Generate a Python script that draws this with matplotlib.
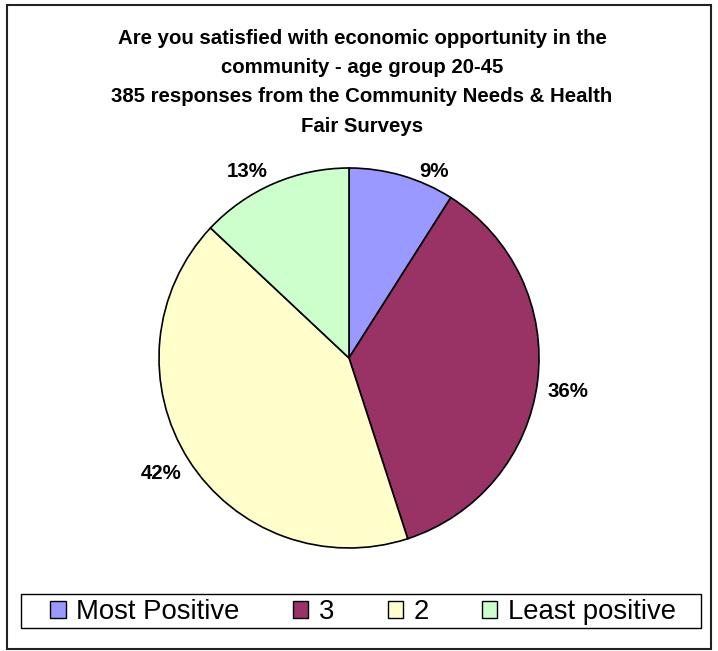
import numpy as np
import matplotlib.pyplot as plt
from matplotlib.patches import Rectangle

plt.rcParams['font.family'] = ['Liberation Sans', 'DejaVu Sans']

# survey answers, most positive first (clockwise from 12 o'clock)
categories = ['Most Positive', '3', '2', 'Least positive']
shares = [9, 36, 42, 13]
colors = ['#9999FF', '#993366', '#FFFFCC', '#CCFFCC']
# label nudges in points, away from the rim
label_offsets = [(23, 3), (22, -7), (-20, -10), (-19, 9)]

title = ("Are you satisfied with economic opportunity in the\n"
         "community - age group 20-45\n"
         "385 responses from the Community Needs & Health\n"
         "Fair Surveys")

W, H = 718, 651
fig = plt.figure(figsize=(W / 100, H / 100), dpi=100)

# pie axes: centre (349, 358) px, radius 190 px
cx, cy, r = 349, 358, 190
ax = fig.add_axes([(cx - r) / W, (H - cy - r) / H, 2 * r / W, 2 * r / H])
wedges, _ = ax.pie(shares, colors=colors, startangle=90, counterclock=False,
                   radius=1, wedgeprops=dict(edgecolor='black', linewidth=1.2))
ax.set_xlim(-1, 1)
ax.set_ylim(-1, 1)
ax.set_aspect('equal')
ax.axis('off')

for w, val, off in zip(wedges, shares, label_offsets):
    mid = np.deg2rad((w.theta1 + w.theta2) / 2)
    ax.annotate(f'{val}%', xy=(np.cos(mid), np.sin(mid)), xytext=off,
                textcoords='offset points', ha='center', va='center',
                fontsize=14.7, fontweight='bold', annotation_clip=False)

fig.text(362 / W, 1 - 29 / H, title, ha='center', va='top', fontsize=14.7,
         fontweight='bold', linespacing=1.68)

# chart border and legend box
fig.patches.append(Rectangle((7 / W, 1 - 649 / H), 704 / W, 644 / H,
                             transform=fig.transFigure, fill=False,
                             edgecolor='#222222', linewidth=1.5))
fig.patches.append(Rectangle((21 / W, 1 - 628 / H), 680 / W, 34 / H,
                             transform=fig.transFigure, fill=False,
                             edgecolor='black', linewidth=1))

leg = fig.legend(wedges, categories, loc='center',
                 bbox_to_anchor=(363 / W, 1 - 612 / H), ncol=4, frameon=False,
                 fontsize=19.8, handlelength=0.55, handleheight=0.55,
                 handletextpad=0.38, columnspacing=1.95, borderpad=0)
for h in leg.legend_handles:
    h.set_linewidth(1)
    h.set_edgecolor('black')

fig.savefig('out.png', dpi=100)
